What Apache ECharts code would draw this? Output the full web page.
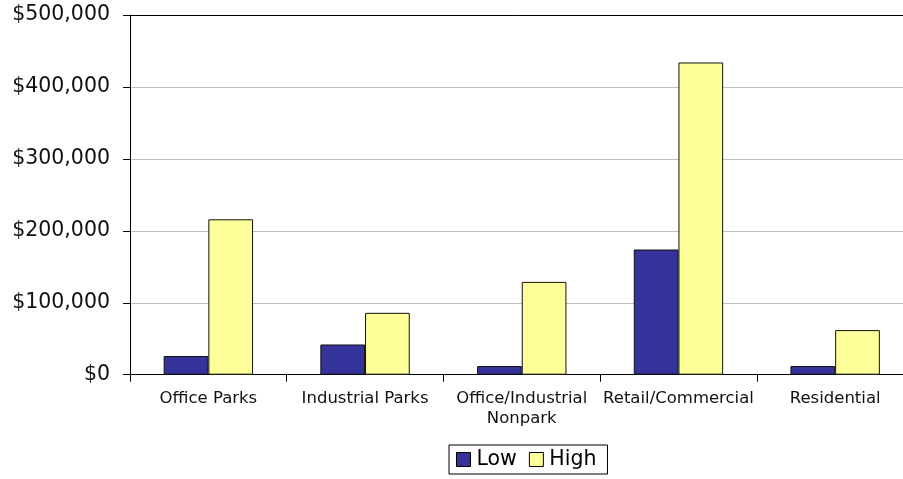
<!DOCTYPE html>
<html>
<head>
<meta charset="utf-8">
<script src="https://cdn.jsdelivr.net/npm/echarts@6/dist/echarts.min.js"></script>
<style>html,body{margin:0;padding:0;background:#fff;}#c{width:903px;height:479px;}</style>
</head>
<body>
<div id="c"></div>
<script>
var categories = ['Office Parks', 'Industrial Parks', 'Office/Industrial\nNonpark', 'Retail/Commercial', 'Residential'];
var lowValues = [26000, 42000, 12000, 174000, 12000];
var highValues = [216000, 86000, 129000, 434000, 62000];
var seriesNames = ['Low', 'High'];

function money(v) {
  return '$' + String(v).replace(/\B(?=(\d{3})+(?!\d))/g, ',');
}

var chart = echarts.init(document.getElementById('c'));
chart.setOption({
  animation: false,
  textStyle: { fontFamily: 'DejaVu Sans' },
  grid: {
    left: 130, top: 15, bottom: 104.3, right: -10.5,
    show: false,
    containLabel: false, outerBoundsMode: 'none'
  },
  legend: {
    data: seriesNames,
    left: 449, top: 445,
    padding: [4, 11, 4, 7],
    itemGap: 12,
    itemWidth: 14, itemHeight: 14,
    icon: 'rect',
    borderColor: '#000', borderWidth: 1,
    textStyle: { fontSize: 20.5, color: '#000', fontFamily: 'DejaVu Sans', padding: [0, 0, 0, 1] },
    itemStyle: { borderColor: '#000', borderWidth: 1 }
  },
  xAxis: [
    {
      type: 'category',
      data: categories,
      axisLine: { lineStyle: { color: '#000', width: 1 } },
      axisTick: { show: true, interval: 0, length: 7, alignWithLabel: false, lineStyle: { color: '#000' } },
      axisLabel: { fontSize: 16.5, color: '#111', margin: 14, lineHeight: 20, interval: 0 },
      splitLine: { show: false }
    },
    {
      type: 'category',
      position: 'top',
      data: categories,
      axisLine: { show: true, lineStyle: { color: '#000', width: 1 } },
      axisTick: { show: false },
      axisLabel: { show: false },
      splitLine: { show: false }
    }
  ],
  yAxis: {
    type: 'value',
    min: 0, max: 500000, interval: 100000,
    axisLine: { show: true, lineStyle: { color: '#000', width: 1 } },
    axisTick: { show: true, length: 7, lineStyle: { color: '#000' } },
    axisLabel: { fontSize: 20.5, color: '#111', margin: 20, formatter: money },
    splitLine: { show: true, lineStyle: { color: '#c0c0c0', width: 1 } }
  },
  series: [
    {
      name: seriesNames[0], type: 'bar', data: lowValues,
      barWidth: 44.7, barGap: '0%',
      itemStyle: { color: '#333399', borderColor: '#111', borderWidth: 1 }
    },
    {
      name: seriesNames[1], type: 'bar', data: highValues,
      barWidth: 44.7, barGap: '0%',
      itemStyle: { color: '#FFFF99', borderColor: '#111', borderWidth: 1 }
    }
  ]
});
</script>
</body>
</html>
